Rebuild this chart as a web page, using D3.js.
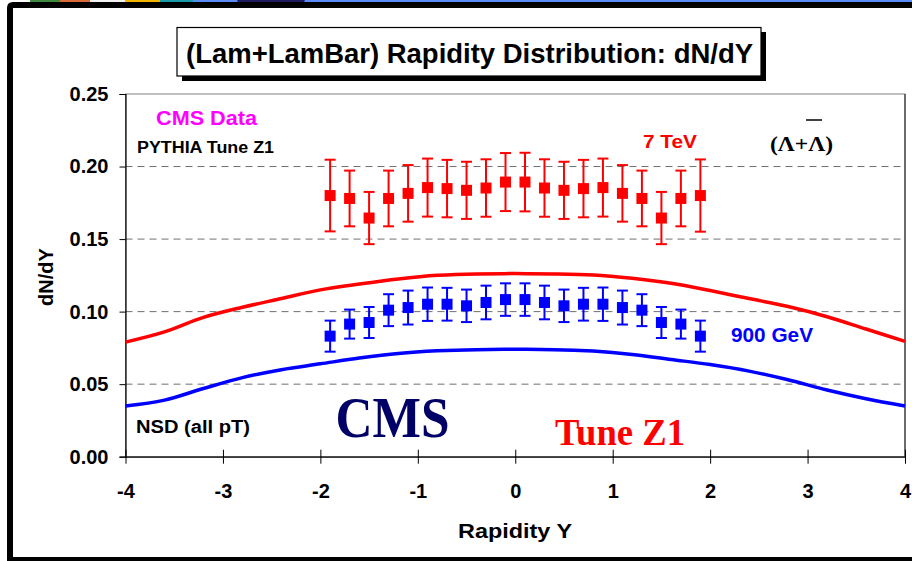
<!DOCTYPE html>
<html>
<head>
<meta charset="utf-8">
<script src="https://cdn.jsdelivr.net/npm/d3@7"></script>
<style>
  html, body { margin: 0; padding: 0; background: #fff; }
  svg { display: block; }
  text { font-weight: bold; }
</style>
</head>
<body>
<svg id="chart" width="912" height="561" font-family="Arial, 'Liberation Sans', sans-serif"></svg>
<script>
// ---------------- data ----------------
const rapidity = [-1.9,-1.7,-1.5,-1.3,-1.1,-0.9,-0.7,-0.5,-0.3,-0.1,0.1,0.3,0.5,0.7,0.9,1.1,1.3,1.5,1.7,1.9];
const cms7TeV  = [0.180,0.178,0.1645,0.178,0.1815,0.1855,0.1848,0.1836,0.1852,0.1893,0.1893,0.1852,0.1836,0.1848,0.1855,0.1815,0.178,0.1645,0.178,0.180];
const err7TeV  = [0.0247,0.0192,0.018,0.0192,0.0195,0.0200,0.0198,0.0197,0.0198,0.0200,0.0202,0.0198,0.0197,0.0198,0.0200,0.0195,0.0192,0.018,0.0192,0.0249];
const cms900   = [0.0831,0.0914,0.0925,0.101,0.1028,0.1051,0.1051,0.104,0.1063,0.1083,0.1083,0.1063,0.104,0.1051,0.1051,0.1028,0.101,0.0925,0.0914,0.0831];
const err900   = [0.0107,0.0100,0.0107,0.0110,0.0117,0.0115,0.0113,0.0112,0.0116,0.0112,0.0112,0.0116,0.0112,0.0113,0.0115,0.0117,0.0110,0.0107,0.0100,0.0107];

const pythiaY     = [-4,-3.6,-3.2,-2.8,-2.4,-2.0,-1.6,-1.2,-0.8,-0.4,0,0.4,0.8,1.2,1.6,2.0,2.4,2.8,3.2,3.6,4];
const pythia7TeV  = [0.079,0.086,0.096,0.103,0.109,0.115,0.119,0.1225,0.125,0.126,0.1262,0.126,0.1253,0.123,0.1195,0.1145,0.109,0.1035,0.0965,0.088,0.0795];
const pythia900   = [0.035,0.039,0.047,0.0545,0.060,0.064,0.068,0.0712,0.073,0.0738,0.074,0.0738,0.0728,0.0705,0.067,0.0635,0.059,0.053,0.046,0.040,0.035];

const xTicks = [-4,-3,-2,-1,0,1,2,3,4];
const yTicks = [0,0.05,0.10,0.15,0.20,0.25];
const gridTicks = [0.05,0.10,0.15,0.20];

// ---------------- drawing ----------------
const svg = d3.select("#chart");
const RED = "#ff0000", BLUE = "#0000ff";
const SANS = "Arial, 'Liberation Sans', sans-serif";
const SERIF = "'Times New Roman', 'Liberation Serif', 'DejaVu Serif', serif";

// slide frame / top strip
svg.append("rect").attr("x",193).attr("y",0).attr("width",719).attr("height",3).attr("fill","#5b8cf5");
[["#3d8a3d",30,30],["#d86a3a",60,30],["#f2f2f2",90,35],["#f0b400",125,35],["#1a9aa8",160,33]].forEach(d=>{
  svg.append("rect").attr("x",d[1]).attr("y",0).attr("width",d[2]).attr("height",3).attr("fill",d[0]);
});
svg.append("ellipse").attr("cx",271).attr("cy",1).attr("rx",34).attr("ry",4).attr("fill","#1d1a5e");
svg.append("path").attr("d","M7,561 L7,8 Q7,2 13,2 L912,2 L912,8 L13,8 L13,561 Z").attr("fill","#000");
svg.append("rect").attr("x",7).attr("y",557).attr("width",905).attr("height",4).attr("fill","#000");

const x = d3.scaleLinear().domain([-4,4]).range([125.5,905]);
const y = d3.scaleLinear().domain([0,0.25]).range([456.7,94]);

// plot area border
svg.append("rect").attr("x",x(-4)).attr("y",y(0.25)).attr("width",x(4)-x(-4)).attr("height",y(0)-y(0.25))
  .attr("fill","none").attr("stroke","#808080").attr("stroke-width",1);
svg.append("line").attr("x1",x(4)).attr("x2",x(4)).attr("y1",y(0.25)).attr("y2",y(0)).attr("stroke","#333").attr("stroke-width",1.2);

// gridlines
svg.append("g").selectAll("line").data(gridTicks).join("line")
  .attr("x1",x(-4)).attr("x2",x(4)).attr("y1",d=>y(d)).attr("y2",d=>y(d))
  .attr("stroke","#707070").attr("stroke-width",1).attr("stroke-dasharray","7,5");

// axes
const yAxis = d3.axisLeft(y).tickValues(yTicks).tickFormat(d3.format(".2f")).tickSize(6).tickPadding(11);
const gy = svg.append("g").attr("transform",`translate(${x(-4)},0)`).call(yAxis);
gy.select(".domain").attr("stroke","#000").attr("stroke-width",1.2);
gy.selectAll(".tick line").attr("stroke","#000");
gy.selectAll(".tick text").attr("font-size",20).attr("fill","#000").style("font-family",SANS).style("font-weight","bold");

const xAxis = d3.axisBottom(x).tickValues(xTicks).tickFormat(d3.format("d")).tickSizeInner(7).tickSizeOuter(0).tickPadding(20);
const gx = svg.append("g").attr("transform",`translate(0,${y(0)})`).call(xAxis);
gx.select(".domain").attr("stroke","#000").attr("stroke-width",1.2);
gx.selectAll(".tick line").attr("stroke","#000").attr("y1",-7);
gx.selectAll(".tick text").attr("font-size",20).attr("fill","#000").style("font-family",SANS).style("font-weight","bold")
  .text(d=>d<0?"-"+Math.abs(d):d);

// axis titles
svg.append("text").attr("x",515).attr("y",538).attr("text-anchor","middle").attr("font-size",21)
  .attr("textLength",114).attr("lengthAdjust","spacingAndGlyphs").text("Rapidity Y");
svg.append("text").attr("transform","translate(53,277) rotate(-90)").attr("text-anchor","middle").attr("font-size",20)
  .text("dN/dY");

// PYTHIA curves
const line = d3.line().x(d=>x(d[0])).y(d=>y(d[1])).curve(d3.curveMonotoneX);
svg.append("path").datum(pythiaY.map((v,i)=>[v,pythia7TeV[i]])).attr("d",line)
  .attr("fill","none").attr("stroke",RED).attr("stroke-width",3.5);
svg.append("path").datum(pythiaY.map((v,i)=>[v,pythia900[i]])).attr("d",line)
  .attr("fill","none").attr("stroke",BLUE).attr("stroke-width",3.5);

// data points with error bars
function drawSeries(vals, errs, color) {
  const g = svg.append("g");
  const pts = rapidity.map((r,i)=>({r, v:vals[i], e:errs[i]}));
  g.selectAll(".eb").data(pts).join("line")
    .attr("x1",d=>x(d.r)).attr("x2",d=>x(d.r)).attr("y1",d=>y(d.v+d.e)).attr("y2",d=>y(d.v-d.e))
    .attr("stroke",color).attr("stroke-width",2);
  g.selectAll(".capT").data(pts).join("line")
    .attr("x1",d=>x(d.r)-5.5).attr("x2",d=>x(d.r)+5.5).attr("y1",d=>y(d.v+d.e)).attr("y2",d=>y(d.v+d.e))
    .attr("stroke",color).attr("stroke-width",2);
  g.selectAll(".capB").data(pts).join("line")
    .attr("x1",d=>x(d.r)-5.5).attr("x2",d=>x(d.r)+5.5).attr("y1",d=>y(d.v-d.e)).attr("y2",d=>y(d.v-d.e))
    .attr("stroke",color).attr("stroke-width",2);
  g.selectAll("rect").data(pts).join("rect")
    .attr("x",d=>x(d.r)-5.5).attr("y",d=>y(d.v)-5.5).attr("width",11).attr("height",11).attr("fill",color);
}
drawSeries(cms7TeV, err7TeV, RED);
drawSeries(cms900, err900, BLUE);

// annotations
svg.append("text").attr("x",156).attr("y",125).attr("font-size",20).attr("fill","#ff00ff")
  .attr("textLength",101).attr("lengthAdjust","spacingAndGlyphs").text("CMS Data");
svg.append("text").attr("x",137).attr("y",153).attr("font-size",16).attr("fill","#000")
  .attr("textLength",137).attr("lengthAdjust","spacingAndGlyphs").text("PYTHIA Tune Z1");
svg.append("text").attr("x",643).attr("y",148).attr("font-size",18).attr("fill",RED)
  .attr("textLength",54).attr("lengthAdjust","spacingAndGlyphs").text("7 TeV");
svg.append("text").attr("x",731).attr("y",341.5).attr("font-size",20).attr("fill",BLUE)
  .attr("textLength",82).attr("lengthAdjust","spacingAndGlyphs").text("900 GeV");
svg.append("text").attr("x",136).attr("y",433).attr("font-size",18).attr("fill","#000")
  .attr("textLength",114).attr("lengthAdjust","spacingAndGlyphs").text("NSD (all pT)");

svg.append("text").attr("x",770).attr("y",150.5).attr("font-size",22).style("font-family",SERIF).attr("fill","#000")
  .attr("textLength",63).attr("lengthAdjust","spacingAndGlyphs").text("(\u039B+\u039B)");
svg.append("line").attr("x1",806).attr("x2",822).attr("y1",120).attr("y2",120).attr("stroke","#000").attr("stroke-width",1.5);

svg.append("text").attr("x",335.5).attr("y",437).attr("font-size",56).style("font-family",SERIF).attr("fill","#000066")
  .attr("textLength",114).attr("lengthAdjust","spacingAndGlyphs").text("CMS");
svg.append("text").attr("x",555).attr("y",444.5).attr("font-size",38).style("font-family",SERIF).attr("fill",RED)
  .attr("textLength",130).attr("lengthAdjust","spacingAndGlyphs").text("Tune Z1");

// title box
svg.append("rect").attr("x",182).attr("y",32).attr("width",584).attr("height",49).attr("fill","#000");
svg.append("rect").attr("x",177).attr("y",27.5).attr("width",584).attr("height",48.5).attr("fill","#fff")
  .attr("stroke","#000").attr("stroke-width",1.2);
svg.append("text").attr("x",469.5).attr("y",62.5).attr("text-anchor","middle").attr("font-size",27).attr("fill","#000")
  .attr("textLength",567).attr("lengthAdjust","spacingAndGlyphs").text("(Lam+LamBar) Rapidity Distribution: dN/dY");
</script>
</body>
</html>
